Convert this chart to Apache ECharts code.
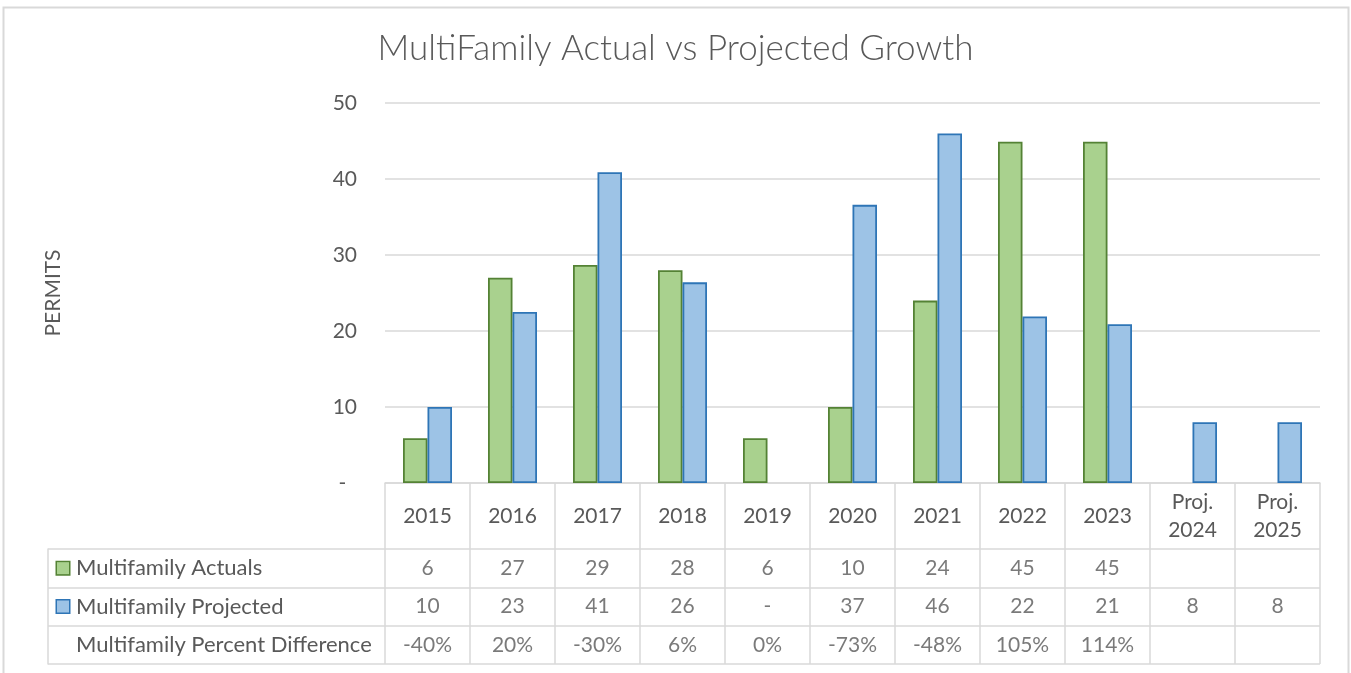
<!DOCTYPE html>
<html>
<head>
<meta charset="utf-8">
<script src="https://cdn.jsdelivr.net/npm/echarts@6/dist/echarts.min.js"></script>
<style>
html,body{margin:0;padding:0;background:#fff;}
#c{width:1351px;height:673px;}
</style>
</head>
<body>
<div id="c"></div>
<script>
// ---- data ----
var categories = ['2015','2016','2017','2018','2019','2020','2021','2022','2023','Proj.\n2024','Proj.\n2025'];
var actuals   = [5.9, 27.0, 28.7, 28.0, 5.9, 10.0, 24.0, 44.9, 44.9, null, null];
var projected = [10.0, 22.5, 40.9, 26.4, null, 36.6, 46.0, 21.9, 20.9, 8.0, 8.0];
var rowNames = ['Multifamily Actuals','Multifamily Projected','Multifamily Percent Difference'];
var actualsText   = ['6','27','29','28','6','10','24','45','45','',''];
var projectedText = ['10','23','41','26','-','37','46','22','21','8','8'];
var percentText   = ['-40%','20%','-30%','6%','0%','-73%','-48%','105%','114%','',''];

var FONT = 'Lato';
var TXT = '#595959';
var LINE = '#D9D9D9';

var rows = [actualsText, projectedText, percentText];
var cellData = [];
rows.forEach(function(r, ri){
  r.forEach(function(t, ci){ cellData.push({name: t, value: [ci, ri]}); });
});

var chart = echarts.init(document.getElementById('c'));
chart.setOption({
  backgroundColor: '#fff',
  animation: false,
  title: {
    text: 'MultiFamily Actual vs Projected Growth',
    left: 'center', top: 26,
    textStyle: {fontFamily: FONT, fontWeight: 300, fontSize: 35, color: TXT}
  },
  graphic: [{
    type: 'rect', left: 1, top: 5, shape: {width: 1345, height: 680},
    style: {fill: 'none', stroke: LINE, lineWidth: 2}, silent: true, z: -1
  }],
  grid: [
    {left: 385, right: 31, top: 103, bottom: 190},
    {left: 385, right: 31, top: 549, bottom: 9}
  ],
  xAxis: [
    {
      type: 'category', gridIndex: 0, data: categories,
      axisLine: {show: true, lineStyle: {color: LINE, width: 1.5}},
      axisTick: {show: true, length: 66, interval: 0, lineStyle: {color: LINE, width: 1.5}},
      axisLabel: {interval: 0, margin: 33, verticalAlign: 'middle', lineHeight: 28,
                  fontFamily: FONT, fontSize: 21, color: TXT}
    },
    {
      type: 'category', gridIndex: 1, data: categories,
      axisLine: {show: false}, axisTick: {show: false}, axisLabel: {show: false},
      splitLine: {show: true, interval: 0, lineStyle: {color: LINE, width: 1.5}}
    }
  ],
  yAxis: [
    {
      type: 'value', gridIndex: 0, min: 0, max: 50, interval: 10,
      name: 'PERMITS', nameLocation: 'middle', nameGap: 321, nameRotate: 90,
      nameTextStyle: {fontFamily: FONT, fontSize: 21, color: TXT},
      axisLine: {show: false}, axisTick: {show: false},
      axisLabel: {margin: 28, fontFamily: FONT, fontSize: 21, color: TXT,
                  formatter: function(v){ return v === 0 ? '-  ' : String(v); }},
      splitLine: {show: true, lineStyle: {color: LINE, width: 1.5}}
    },
    {
      type: 'category', gridIndex: 1, data: rowNames, inverse: true,
      axisLine: {show: false},
      axisTick: {show: true, length: 337, interval: 0, lineStyle: {color: LINE, width: 1.5}},
      splitLine: {show: true, interval: 0, lineStyle: {color: LINE, width: 1.5}},
      axisLabel: {
        interval: 0, margin: 328, align: 'left', fontFamily: FONT, fontSize: 22, color: TXT,
        formatter: function(v, i){
          var k = i === 0 ? 'g' : (i === 1 ? 'b' : 'n');
          return '{' + k + '|}{t|' + v + '}';
        },
        rich: {
          g: {width: 12, height: 12, backgroundColor: '#A9D18E', borderColor: '#548235', borderWidth: 1.5},
          b: {width: 12, height: 12, backgroundColor: '#9DC3E6', borderColor: '#2E75B6', borderWidth: 1.5},
          n: {width: 12, height: 12},
          t: {fontFamily: FONT, fontSize: 22, color: TXT, padding: [0, 0, 0, 7]}
        }
      }
    },
    {
      type: 'category', gridIndex: 1, data: rowNames, inverse: true, position: 'left', offset: 337,
      axisLine: {show: true, lineStyle: {color: LINE, width: 1.5}},
      axisTick: {show: false}, axisLabel: {show: false}
    }
  ],
  series: [
    {
      name: 'Multifamily Actuals', type: 'bar', xAxisIndex: 0, yAxisIndex: 0,
      data: actuals, barWidth: 24.5, barGap: '0%',
      itemStyle: {color: '#A9D18E', borderColor: '#548235', borderWidth: 1.8}
    },
    {
      name: 'Multifamily Projected', type: 'bar', xAxisIndex: 0, yAxisIndex: 0,
      data: projected, barWidth: 24.5, barGap: '0%',
      itemStyle: {color: '#9DC3E6', borderColor: '#2E75B6', borderWidth: 1.8}
    },
    {
      name: 'table', type: 'scatter', xAxisIndex: 1, yAxisIndex: 1,
      data: cellData, symbolSize: 1, itemStyle: {color: 'rgba(0,0,0,0)'},
      label: {show: true, position: 'inside', formatter: function(p){ return p.name; },
              fontFamily: FONT, fontSize: 21, color: TXT},
      silent: true
    }
  ]
});
</script>
</body>
</html>
